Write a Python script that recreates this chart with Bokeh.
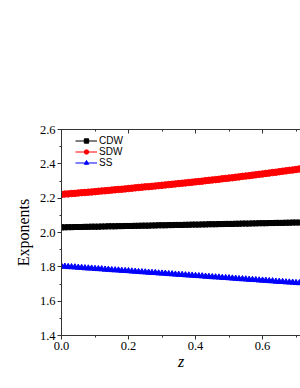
from bokeh.plotting import figure
from bokeh.models import LinearAxis, SingleIntervalTicker, Range1d, Legend, LegendItem, PrintfTickFormatter
from bokeh.embed import file_html
from bokeh.resources import INLINE

z = [round(i * 0.01, 2) for i in range(72)]

cdw = [2.030,2.030,2.031,2.031,2.032,2.032,2.032,2.033,2.033,2.034,
       2.034,2.034,2.035,2.035,2.036,2.036,2.036,2.037,2.037,2.038,
       2.038,2.038,2.039,2.039,2.040,2.040,2.040,2.041,2.041,2.042,
       2.042,2.042,2.043,2.043,2.044,2.044,2.044,2.045,2.045,2.046,
       2.046,2.046,2.047,2.047,2.048,2.048,2.048,2.049,2.049,2.050,
       2.050,2.050,2.051,2.051,2.052,2.052,2.052,2.053,2.053,2.054,
       2.054,2.054,2.055,2.055,2.056,2.056,2.056,2.057,2.057,2.058,
       2.058,2.058]

sdw = [2.222,2.224,2.225,2.227,2.228,2.230,2.232,2.233,2.235,2.236,
       2.238,2.240,2.242,2.243,2.245,2.247,2.249,2.251,2.252,2.254,
       2.256,2.258,2.260,2.262,2.264,2.266,2.267,2.269,2.271,2.273,
       2.275,2.277,2.279,2.281,2.283,2.285,2.287,2.289,2.291,2.293,
       2.295,2.297,2.299,2.302,2.304,2.306,2.308,2.310,2.313,2.315,
       2.317,2.319,2.322,2.324,2.327,2.329,2.331,2.334,2.336,2.339,
       2.341,2.344,2.346,2.349,2.351,2.354,2.357,2.359,2.362,2.364,
       2.367,2.370]

ss = [1.803,1.802,1.800,1.799,1.798,1.796,1.795,1.793,1.792,1.791,
      1.789,1.788,1.787,1.785,1.784,1.782,1.781,1.780,1.778,1.777,
      1.776,1.774,1.773,1.771,1.770,1.769,1.767,1.766,1.765,1.763,
      1.762,1.761,1.759,1.758,1.756,1.755,1.754,1.752,1.751,1.750,
      1.748,1.747,1.746,1.744,1.743,1.741,1.740,1.739,1.737,1.736,
      1.735,1.733,1.732,1.730,1.729,1.728,1.726,1.725,1.724,1.722,
      1.721,1.720,1.718,1.717,1.715,1.714,1.713,1.711,1.710,1.709,
      1.707,1.706]

series_names = ["CDW", "SDW", "SS"]

p = figure(width=300, height=372, output_backend="svg", toolbar_location=None,
           x_range=Range1d(0, 0.7134), y_range=Range1d(1.4, 2.6),
           min_border_left=61, min_border_right=0, min_border_top=129, min_border_bottom=16)
p.outline_line_color = None
p.xgrid.visible = False
p.ygrid.visible = False
p.background_fill_color = "white"
p.border_fill_color = "white"

p.xaxis.ticker = SingleIntervalTicker(interval=0.2, num_minor_ticks=2)
p.yaxis.ticker = SingleIntervalTicker(interval=0.2, num_minor_ticks=2)
p.xaxis.formatter = PrintfTickFormatter(format="%.1f")
p.yaxis.formatter = PrintfTickFormatter(format="%.1f")

for ax in (p.xaxis[0], p.yaxis[0]):
    ax.axis_line_color = "#333333"
    ax.major_tick_line_color = "#333333"
    ax.minor_tick_line_color = "#333333"
    ax.major_tick_out = 4
    ax.major_tick_in = 0
    ax.minor_tick_out = 2
    ax.minor_tick_in = 0
    ax.major_label_text_font = "Liberation Serif"
    ax.major_label_text_font_size = "12.5px"
    ax.major_label_text_color = "black"
    ax.major_label_standoff = 2
    ax.axis_label_text_font = "Liberation Serif"
    ax.axis_label_text_font_size = "16px"
    ax.axis_label_text_color = "black"

p.yaxis.axis_label = "Exponents"
p.yaxis.axis_label_text_font_style = "normal"
p.yaxis.axis_label_standoff = 5
p.xaxis.axis_label = "z"
p.xaxis.axis_label_text_font_style = "italic"
p.xaxis.axis_label_standoff = 0

top = LinearAxis(ticker=SingleIntervalTicker(interval=0.2, num_minor_ticks=2))
top.axis_line_color = "#333333"
top.major_tick_line_color = "#333333"
top.minor_tick_line_color = "#333333"
top.major_tick_in = 4
top.major_tick_out = 0
top.minor_tick_in = 2
top.minor_tick_out = 0
top.major_label_text_font_size = "0px"
top.major_label_text_alpha = 0
p.add_layout(top, "above")

l1 = p.line(z, cdw, line_color="black", line_width=1)
m1 = p.scatter(z, cdw, marker="square", size=5, fill_color="black", line_color="black")
l2 = p.line(z, sdw, line_color="#ff0000", line_width=1)
m2 = p.scatter(z, sdw, marker="circle", size=6.5, fill_color="#ff0000", line_color="#ff0000")
l3 = p.line(z, ss, line_color="#0000ff", line_width=1)
m3 = p.scatter(z, ss, marker="triangle", size=6, fill_color="#0000ff", line_color="#0000ff")

legend = Legend(items=[LegendItem(label=series_names[0], renderers=[l1, m1]),
                       LegendItem(label=series_names[1], renderers=[l2, m2]),
                       LegendItem(label=series_names[2], renderers=[l3, m3])],
                location=(14, 167))
legend.padding = 0
legend.margin = 0
legend.spacing = 0
legend.glyph_width = 22
legend.glyph_height = 11
legend.label_height = 11
legend.label_standoff = 2
legend.label_text_font = "Liberation Sans"
legend.label_text_font_size = "10px"
legend.label_text_color = "black"
legend.border_line_color = None
legend.background_fill_alpha = 0
p.add_layout(legend, "center")

open("out.html", "w").write(file_html(p, INLINE))
